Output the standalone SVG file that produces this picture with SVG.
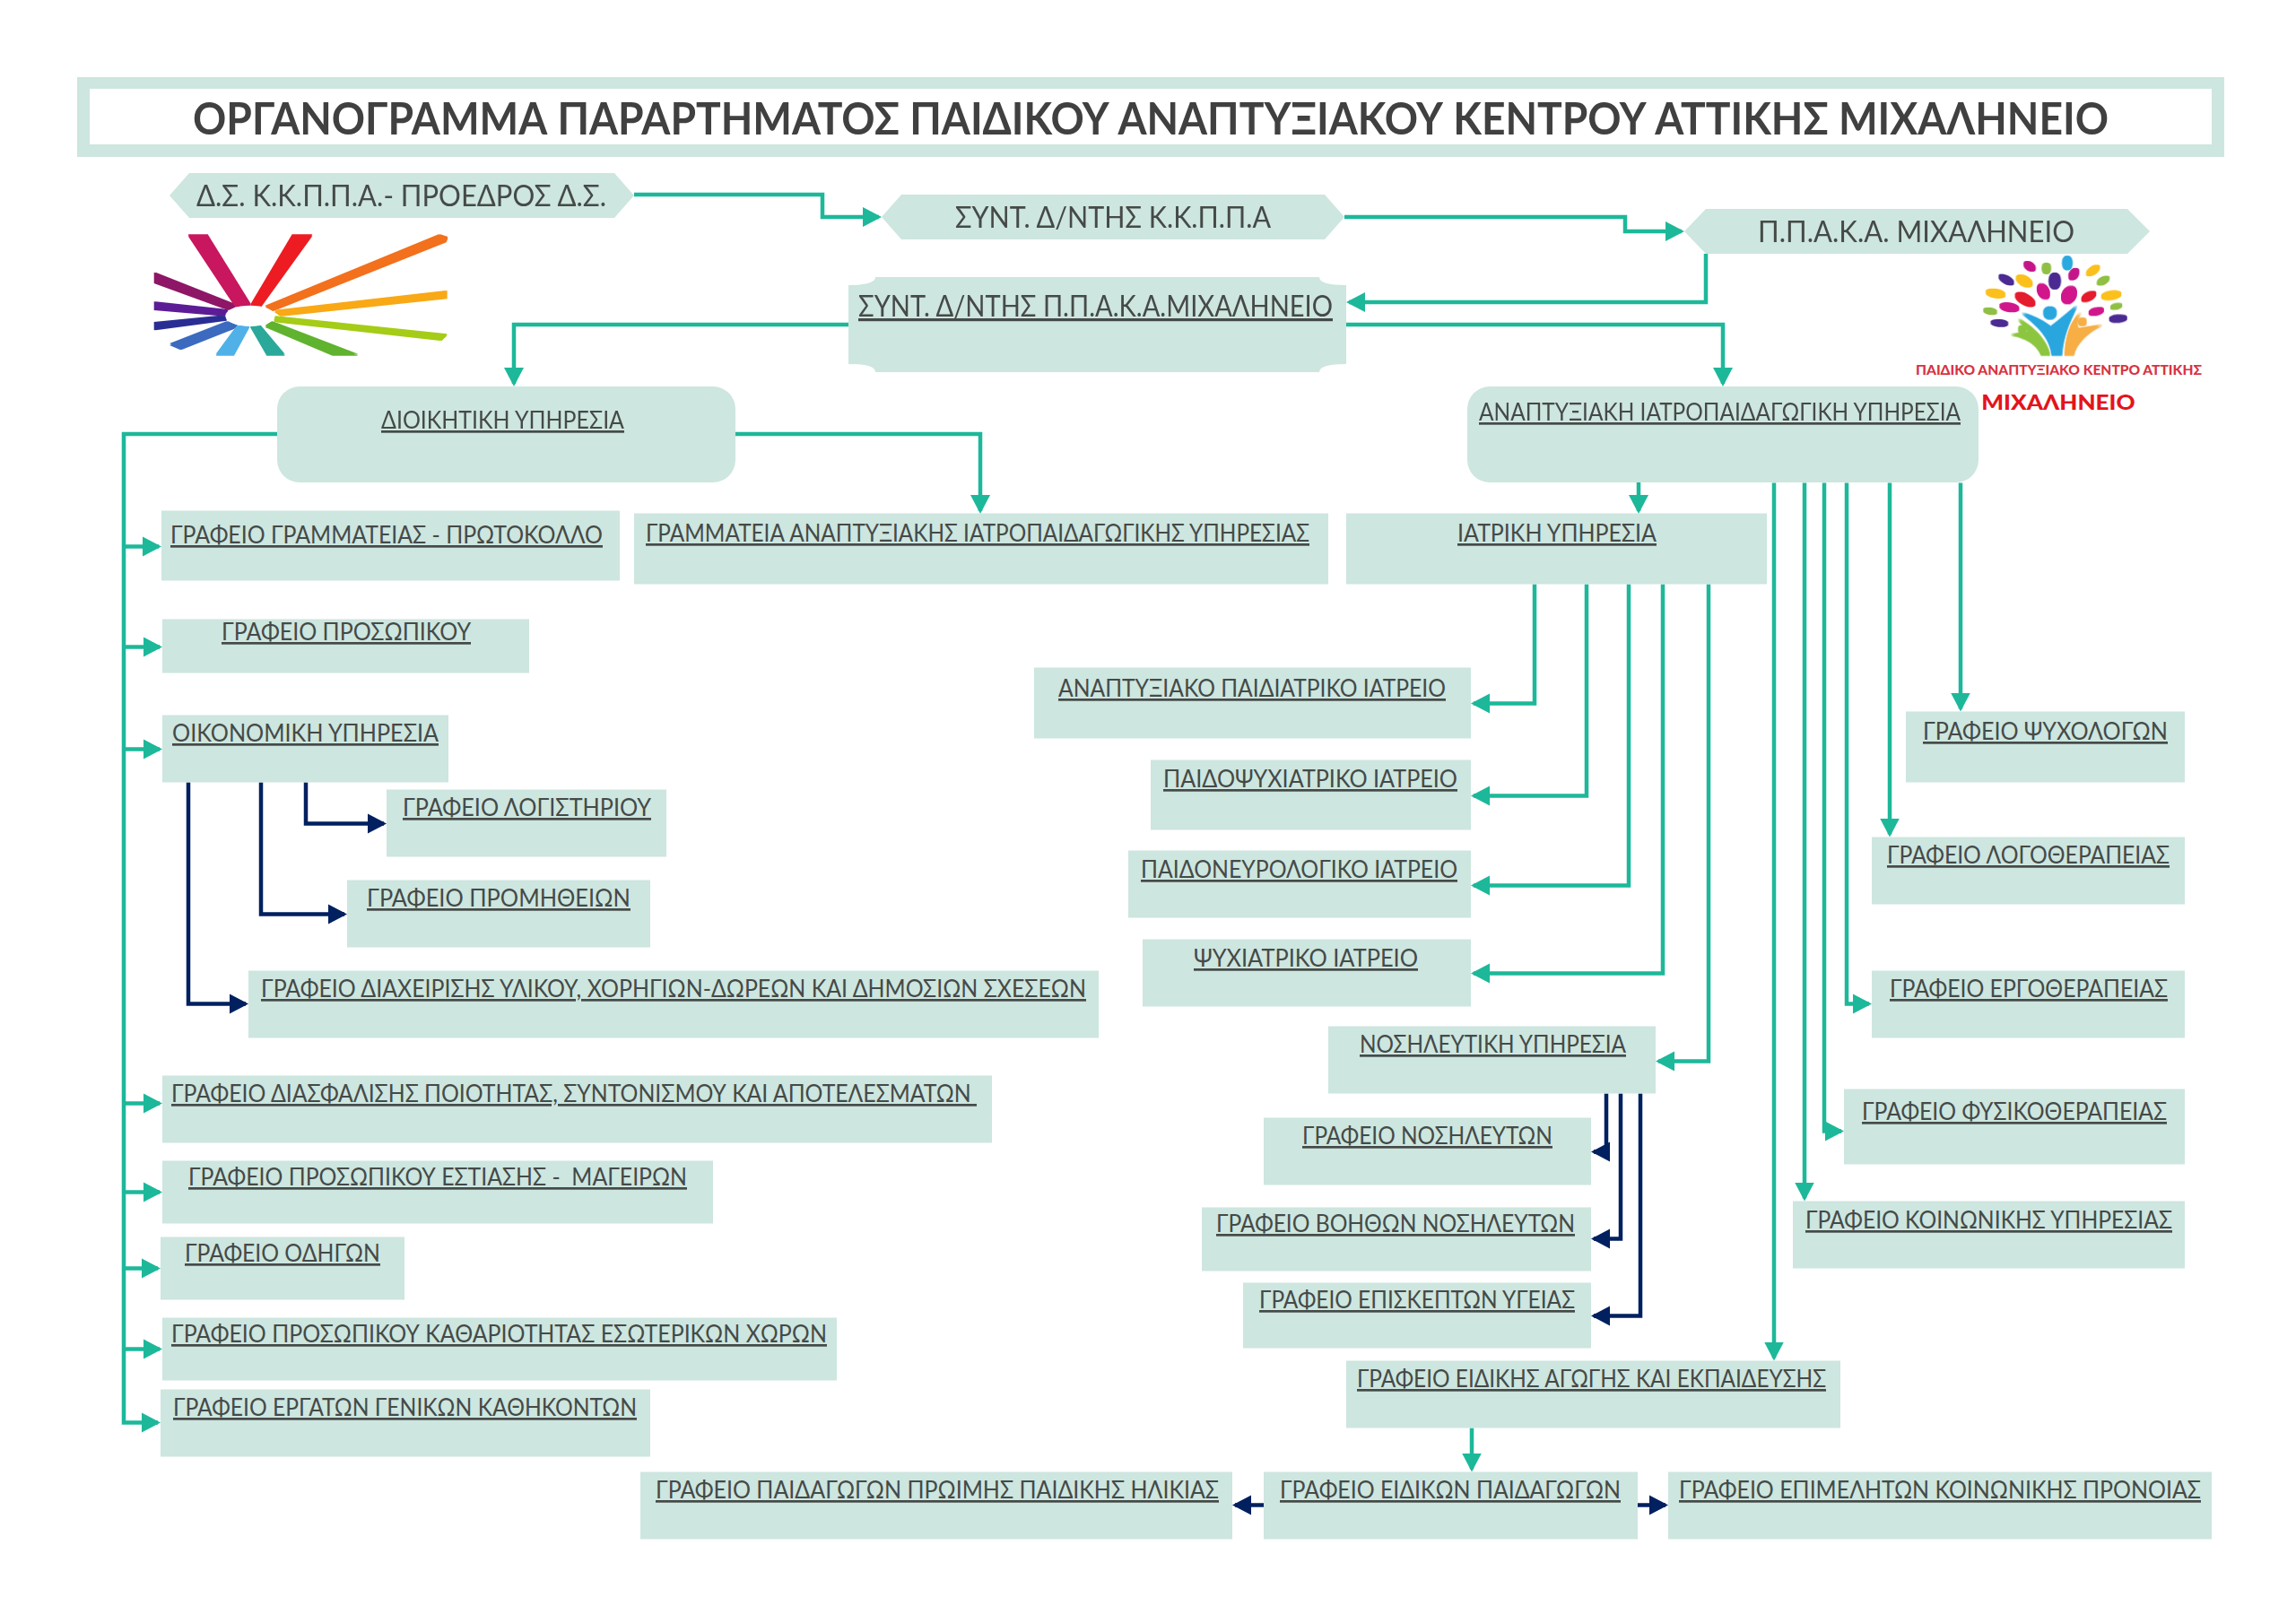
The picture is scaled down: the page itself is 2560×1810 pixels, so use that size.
<svg xmlns="http://www.w3.org/2000/svg" width="2560" height="1810" viewBox="0 0 2560 1810">
<style>
.b{fill:#cde6df}
text{font-family:Lato,"Open Sans","Noto Sans",sans-serif;fill:#454a48}
.t{font-size:27px;text-decoration:underline;white-space:pre}
g g .t{transform:translateY(-1.5px)}
.h{font-size:33px}
.c{fill:none;stroke-width:4.5;stroke-linejoin:miter}
.g{stroke:#1db89a}
.n{stroke:#002060}
</style>
<defs>
<marker id="ag" markerUnits="userSpaceOnUse" markerWidth="21" markerHeight="24" viewBox="0 0 21 24" refX="18" refY="12" orient="auto"><path d="M0 1L21 12L0 23Z" fill="#1db89a"/></marker>
<marker id="an" markerUnits="userSpaceOnUse" markerWidth="21" markerHeight="24" viewBox="0 0 21 24" refX="18" refY="12" orient="auto"><path d="M0 1L21 12L0 23Z" fill="#002060"/></marker>
<filter id="soft" x="-5%" y="-5%" width="110%" height="110%"><feMorphology operator="dilate" radius="3"/><feGaussianBlur stdDeviation="2"/></filter>
</defs>
<rect width="2560" height="1810" fill="#fff"/>

<g id="title"><path class="b" fill-rule="evenodd" d="M86 86H2480V175H86ZM100 99V161H2466V99Z"/>
<text x="215" y="150" font-size="50" font-weight="700" style="fill:#404040" textLength="2136" lengthAdjust="spacingAndGlyphs">ΟΡΓΑΝΟΓΡΑΜΜΑ ΠΑΡΑΡΤΗΜΑΤΟΣ ΠΑΙΔΙΚΟΥ ΑΝΑΠΤΥΞΙΑΚΟΥ ΚΕΝΤΡΟΥ ΑΤΤΙΚΗΣ ΜΙΧΑΛΗΝΕΙΟ</text></g>

<g id="logo-kkppa" transform="translate(150 230) scale(.3333)">
<g filter="url(#soft)">
<polygon fill="#c8175f" points="182,97 242,97 388,332 340,335"/>
<polygon fill="#ed1c24" points="530,97 592,97 420,335 390,332"/>
<polygon fill="#f36f1a" points="1020,97 1045,105 1040,118 462,348 440,335"/>
<polygon fill="#f9a813" points="1043,285 1043,307 490,365 470,350"/>
<polygon fill="#a5cc17" points="470,370 1043,430 1025,447 470,385"/>
<polygon fill="#5fb32f" points="460,388 745,497 665,497 440,402"/>
<polygon fill="#2ca89a" points="418,400 500,497 445,497 390,402"/>
<polygon fill="#4fb1e8" points="345,402 382,402 330,497 275,497"/>
<polygon fill="#3a6bbf" points="310,388 345,402 155,477 120,462"/>
<polygon fill="#2b2e94" points="305,367 305,380 68,412 68,390"/>
<polygon fill="#5b1f96" points="68,322 310,348 305,365 68,345"/>
<polygon fill="#8e1766" points="68,224 340,332 315,345 68,255"/>
</g>
<ellipse cx="387" cy="367" rx="83" ry="35" fill="#fff"/>
</g>

<g id="logo-pakA" transform="translate(2130 270) scale(.3333)">
<g filter="url(#soft)">
<ellipse cx="399" cy="81" rx="20" ry="12" transform="rotate(35 399 81)" fill="#c4168a"/>
<ellipse cx="455" cy="88" rx="17" ry="13" transform="rotate(90 455 88)" fill="#8fc045"/>
<ellipse cx="525" cy="70" rx="22" ry="15" transform="rotate(90 525 70)" fill="#29a9e0"/>
<ellipse cx="611" cy="95" rx="24" ry="11" transform="rotate(-35 611 95)" fill="#fbc01a"/>
<ellipse cx="547" cy="107" rx="20" ry="13" transform="rotate(-55 547 107)" fill="#c4168a"/>
<ellipse cx="483" cy="130" rx="26" ry="18" transform="rotate(90 483 130)" fill="#4b2a92"/>
<ellipse cx="645" cy="129" rx="21" ry="10" transform="rotate(-30 645 129)" fill="#8fc045"/>
<ellipse cx="321" cy="126" rx="26" ry="11" transform="rotate(30 321 126)" fill="#4b2a92"/>
<ellipse cx="381" cy="130" rx="28" ry="15" transform="rotate(30 381 130)" fill="#fbc01a"/>
<ellipse cx="445" cy="165" rx="26" ry="17" transform="rotate(60 445 165)" fill="#d1178c"/>
<ellipse cx="531" cy="177" rx="30" ry="22" transform="rotate(-60 531 177)" fill="#d1178c"/>
<ellipse cx="597" cy="182" rx="25" ry="12" transform="rotate(-30 597 182)" fill="#e41f2d"/>
<ellipse cx="672" cy="178" rx="32" ry="13" transform="rotate(-10 672 178)" fill="#fbc01a"/>
<ellipse cx="285" cy="172" rx="31" ry="13" transform="rotate(10 285 172)" fill="#fbc01a"/>
<ellipse cx="384" cy="192" rx="35" ry="16" transform="rotate(30 384 192)" fill="#e41f2d"/>
<ellipse cx="331" cy="218" rx="31" ry="13" transform="rotate(10 331 218)" fill="#d1178c"/>
<ellipse cx="622" cy="232" rx="24" ry="11" transform="rotate(-15 622 232)" fill="#d1178c"/>
<ellipse cx="689" cy="215" rx="18" ry="8" transform="rotate(-15 689 215)" fill="#8fc045"/>
<ellipse cx="267" cy="231" rx="21" ry="9" transform="rotate(10 267 231)" fill="#8fc045"/>
<ellipse cx="298" cy="271" rx="27" ry="10" transform="rotate(5 298 271)" fill="#4b2a92"/>
<ellipse cx="695" cy="256" rx="28" ry="11" transform="rotate(-5 695 256)" fill="#4b2a92"/>
<circle cx="467" cy="237" r="20" fill="#29a6de"/>
<path fill="#29a6de" d="M375 238C420 250 450 270 470 285C490 270 520 245 555 215C530 270 510 310 505 378L475 378C470 320 430 280 375 238Z"/>
<circle cx="375" cy="292" r="12" fill="#8cc63f"/>
<path fill="#8cc63f" d="M338 310L395 300L362 258C410 285 455 330 465 378L440 378C430 350 400 320 338 310Z"/>
<circle cx="575" cy="267" r="12" fill="#f6ae45"/>
<path fill="#f6ae45" d="M570 235C535 270 520 320 518 378L545 378C552 340 590 300 640 278L560 290C555 270 560 250 570 235Z"/>
</g>
<text x="18" y="445" font-size="46" font-weight="900" style="fill:#d9333f" textLength="957" lengthAdjust="spacingAndGlyphs">ΠΑΙΔΙΚΟ ΑΝΑΠΤΥΞΙΑΚΟ ΚΕΝΤΡΟ ΑΤΤΙΚΗΣ</text>
<text x="238" y="562" font-size="68" font-weight="900" style="fill:#e3141b" textLength="514" lengthAdjust="spacingAndGlyphs">ΜΙΧΑΛΗΝΕΙΟ</text>
</g>

<g id="connectors">
<g class="c g">
<path marker-end="url(#ag)" d="M707 217H917V242H980"/>
<path marker-end="url(#ag)" d="M1499 242H1812V258H1875"/>
<path marker-end="url(#ag)" d="M1902 283V337H1504"/>
<path marker-end="url(#ag)" d="M946 362H573V428"/>
<path marker-end="url(#ag)" d="M1501 362H1921V428"/>
<path marker-end="url(#ag)" d="M820 484H1093V570"/>
<path marker-end="url(#ag)" d="M309 484H138V1586.5H176"/>
<path marker-end="url(#ag)" d="M1827 537V570"/>
</g>
<g transform="translate(0 1.5)">
<g class="c g">
<path marker-end="url(#ag)" d="M138 608H177"/>
<path marker-end="url(#ag)" d="M138 720H178"/>
<path marker-end="url(#ag)" d="M138 834H178"/>
<path marker-end="url(#ag)" d="M138 1229H178"/>
<path marker-end="url(#ag)" d="M138 1328H178"/>
<path marker-end="url(#ag)" d="M138 1413H176"/>
<path marker-end="url(#ag)" d="M138 1503H178"/>
<path marker-end="url(#ag)" d="M1711 650V783H1643"/>
<path marker-end="url(#ag)" d="M1769 650V886H1643"/>
<path marker-end="url(#ag)" d="M1816 650V986H1643"/>
<path marker-end="url(#ag)" d="M1854 650V1084H1643"/>
<path marker-end="url(#ag)" d="M1905 650V1182H1849"/>
<path marker-end="url(#ag)" d="M2186 537V789"/>
<path marker-end="url(#ag)" d="M2107 537V929"/>
<path marker-end="url(#ag)" d="M2059 537V1118H2084"/>
<path marker-end="url(#ag)" d="M2034 537V1260H2053"/>
<path marker-end="url(#ag)" d="M2012 537V1335"/>
<path marker-end="url(#ag)" d="M1978 537V1513"/>
<path marker-end="url(#ag)" d="M1641 1591V1637"/>
</g>
<g class="c n">
<path marker-end="url(#an)" d="M341 871V917H428"/>
<path marker-end="url(#an)" d="M291 871V1018H384"/>
<path marker-end="url(#an)" d="M210 871V1118H274"/>
<path marker-end="url(#an)" d="M1791 1218V1283H1777"/>
<path marker-end="url(#an)" d="M1807 1218V1380H1777"/>
<path marker-end="url(#an)" d="M1829 1218V1466H1777"/>
<path marker-end="url(#an)" d="M1409 1677H1377"/>
<path marker-end="url(#an)" d="M1826 1677H1857"/>
</g>
</g>
</g>

<g id="n-ds"><polygon class="b" points="189,218 211,193 685,193 707,218 685,243 211,243"/><text class="h" x="219" y="230" textLength="457" lengthAdjust="spacingAndGlyphs">Δ.Σ. Κ.Κ.Π.Π.Α.- ΠΡΟΕΔΡΟΣ Δ.Σ.</text></g>
<g id="n-synt"><polygon class="b" points="983,242 1005,217 1477,217 1499,242 1477,267 1005,267"/><text class="h" x="1065" y="254" textLength="352" lengthAdjust="spacingAndGlyphs">ΣΥΝΤ. Δ/ΝΤΗΣ Κ.Κ.Π.Π.Α</text></g>
<g id="n-ppaka"><polygon class="b" points="1878,258 1902,233 2372,233 2397,258 2372,283 1902,283"/><text class="h" x="1960" y="270" textLength="353" lengthAdjust="spacingAndGlyphs">Π.Π.Α.Κ.Α. ΜΙΧΑΛΗΝΕΙΟ</text></g>
<g id="n-syntp"><path class="b" d="M976 309H1471Q1471 318 1501 318V406Q1471 406 1471 415H976Q976 406 946 406V318Q976 318 976 309Z"/><text class="t" style="font-size:32px" x="957" y="353" textLength="529" lengthAdjust="spacingAndGlyphs">ΣΥΝΤ. Δ/ΝΤΗΣ Π.Π.Α.Κ.Α.ΜΙΧΑΛΗΝΕΙΟ</text></g>
<g id="n-dioik"><rect class="b" x="309" y="431" width="511" height="107" rx="25"/><text class="t" x="425" y="478" textLength="271" lengthAdjust="spacingAndGlyphs">ΔΙΟΙΚΗΤΙΚΗ ΥΠΗΡΕΣΙΑ</text></g>
<g id="n-anapt"><rect class="b" x="1636" y="431" width="570" height="107" rx="25"/><text class="t" x="1649" y="469" textLength="537" lengthAdjust="spacingAndGlyphs">ΑΝΑΠΤΥΞΙΑΚΗ ΙΑΤΡΟΠΑΙΔΑΓΩΓΙΚΗ ΥΠΗΡΕΣΙΑ</text></g>
<g transform="translate(0 1.5)">
<g id="n-gram"><rect class="b" x="180" y="568" width="511" height="78"/><text class="t" x="190" y="606" textLength="482" lengthAdjust="spacingAndGlyphs">ΓΡΑΦΕΙΟ ΓΡΑΜΜΑΤΕΙΑΣ - ΠΡΩΤΟΚΟΛΛΟ</text></g>
<g id="n-grama"><rect class="b" x="707" y="571" width="774" height="79"/><text class="t" x="720" y="604" textLength="740" lengthAdjust="spacingAndGlyphs">ΓΡΑΜΜΑΤΕΙΑ ΑΝΑΠΤΥΞΙΑΚΗΣ ΙΑΤΡΟΠΑΙΔΑΓΩΓΙΚΗΣ ΥΠΗΡΕΣΙΑΣ</text></g>
<g id="n-pros"><rect class="b" x="181" y="689" width="409" height="60"/><text class="t" x="247" y="714" textLength="278" lengthAdjust="spacingAndGlyphs">ΓΡΑΦΕΙΟ ΠΡΟΣΩΠΙΚΟΥ</text></g>
<g id="n-oik"><rect class="b" x="181" y="796" width="319" height="75"/><text class="t" x="192" y="827" textLength="297" lengthAdjust="spacingAndGlyphs">ΟΙΚΟΝΟΜΙΚΗ ΥΠΗΡΕΣΙΑ</text></g>
<g id="n-log"><rect class="b" x="431" y="879" width="312" height="75"/><text class="t" x="449" y="910" textLength="277" lengthAdjust="spacingAndGlyphs">ΓΡΑΦΕΙΟ ΛΟΓΙΣΤΗΡΙΟΥ</text></g>
<g id="n-prom"><rect class="b" x="387" y="980" width="338" height="75"/><text class="t" x="409" y="1011" textLength="294" lengthAdjust="spacingAndGlyphs">ΓΡΑΦΕΙΟ ΠΡΟΜΗΘΕΙΩΝ</text></g>
<g id="n-diax"><rect class="b" x="277" y="1081" width="948" height="75"/><text class="t" x="291" y="1112" textLength="920" lengthAdjust="spacingAndGlyphs">ΓΡΑΦΕΙΟ ΔΙΑΧΕΙΡΙΣΗΣ ΥΛΙΚΟΥ, ΧΟΡΗΓΙΩΝ-ΔΩΡΕΩΝ ΚΑΙ ΔΗΜΟΣΙΩΝ ΣΧΕΣΕΩΝ</text></g>
<g id="n-dias"><rect class="b" x="181" y="1198" width="925" height="75"/><text class="t" x="191" y="1229" textLength="898" lengthAdjust="spacingAndGlyphs">ΓΡΑΦΕΙΟ ΔΙΑΣΦΑΛΙΣΗΣ ΠΟΙΟΤΗΤΑΣ, ΣΥΝΤΟΝΙΣΜΟΥ ΚΑΙ ΑΠΟΤΕΛΕΣΜΑΤΩΝ </text></g>
<g id="n-est"><rect class="b" x="181" y="1293" width="614" height="70"/><text class="t" x="210" y="1322" textLength="556" lengthAdjust="spacingAndGlyphs">ΓΡΑΦΕΙΟ ΠΡΟΣΩΠΙΚΟΥ ΕΣΤΙΑΣΗΣ -  ΜΑΓΕΙΡΩΝ</text></g>
<g id="n-odig"><rect class="b" x="179" y="1378" width="272" height="70"/><text class="t" x="206" y="1407" textLength="218" lengthAdjust="spacingAndGlyphs">ΓΡΑΦΕΙΟ ΟΔΗΓΩΝ</text></g>
<g id="n-kath"><rect class="b" x="181" y="1468" width="752" height="70"/><text class="t" x="191" y="1497" textLength="731" lengthAdjust="spacingAndGlyphs">ΓΡΑΦΕΙΟ ΠΡΟΣΩΠΙΚΟΥ ΚΑΘΑΡΙΟΤΗΤΑΣ ΕΣΩΤΕΡΙΚΩΝ ΧΩΡΩΝ</text></g>
<g id="n-erg"><rect class="b" x="179" y="1548" width="546" height="75"/><text class="t" x="193" y="1579" textLength="517" lengthAdjust="spacingAndGlyphs">ΓΡΑΦΕΙΟ ΕΡΓΑΤΩΝ ΓΕΝΙΚΩΝ ΚΑΘΗΚΟΝΤΩΝ</text></g>
<g id="n-paid"><rect class="b" x="714" y="1640" width="660" height="75"/><text class="t" x="731" y="1671" textLength="628" lengthAdjust="spacingAndGlyphs">ΓΡΑΦΕΙΟ ΠΑΙΔΑΓΩΓΩΝ ΠΡΩΙΜΗΣ ΠΑΙΔΙΚΗΣ ΗΛΙΚΙΑΣ</text></g>
<g id="n-iatr"><rect class="b" x="1501" y="571" width="469" height="79"/><text class="t" x="1625" y="604" textLength="222" lengthAdjust="spacingAndGlyphs">ΙΑΤΡΙΚΗ ΥΠΗΡΕΣΙΑ</text></g>
<g id="n-api"><rect class="b" x="1153" y="743" width="487" height="79"/><text class="t" x="1180" y="777" textLength="432" lengthAdjust="spacingAndGlyphs">ΑΝΑΠΤΥΞΙΑΚΟ ΠΑΙΔΙΑΤΡΙΚΟ ΙΑΤΡΕΙΟ</text></g>
<g id="n-pps"><rect class="b" x="1283" y="846" width="357" height="78"/><text class="t" x="1297" y="878" textLength="328" lengthAdjust="spacingAndGlyphs">ΠΑΙΔΟΨΥΧΙΑΤΡΙΚΟ ΙΑΤΡΕΙΟ</text></g>
<g id="n-pne"><rect class="b" x="1258" y="947" width="382" height="75"/><text class="t" x="1272" y="979" textLength="353" lengthAdjust="spacingAndGlyphs">ΠΑΙΔΟΝΕΥΡΟΛΟΓΙΚΟ ΙΑΤΡΕΙΟ</text></g>
<g id="n-psy"><rect class="b" x="1274" y="1046" width="366" height="75"/><text class="t" x="1331" y="1078" textLength="250" lengthAdjust="spacingAndGlyphs">ΨΥΧΙΑΤΡΙΚΟ ΙΑΤΡΕΙΟ</text></g>
<g id="n-nos"><rect class="b" x="1481" y="1143" width="365" height="75"/><text class="t" x="1516" y="1174" textLength="297" lengthAdjust="spacingAndGlyphs">ΝΟΣΗΛΕΥΤΙΚΗ ΥΠΗΡΕΣΙΑ</text></g>
<g id="n-gnos"><rect class="b" x="1409" y="1245" width="365" height="75"/><text class="t" x="1452" y="1276" textLength="279" lengthAdjust="spacingAndGlyphs">ΓΡΑΦΕΙΟ ΝΟΣΗΛΕΥΤΩΝ</text></g>
<g id="n-gboh"><rect class="b" x="1340" y="1345" width="434" height="71"/><text class="t" x="1356" y="1374" textLength="400" lengthAdjust="spacingAndGlyphs">ΓΡΑΦΕΙΟ ΒΟΗΘΩΝ ΝΟΣΗΛΕΥΤΩΝ</text></g>
<g id="n-gepi"><rect class="b" x="1386" y="1429" width="388" height="73"/><text class="t" x="1404" y="1459" textLength="352" lengthAdjust="spacingAndGlyphs">ΓΡΑΦΕΙΟ ΕΠΙΣΚΕΠΤΩΝ ΥΓΕΙΑΣ</text></g>
<g id="n-eid"><rect class="b" x="1501" y="1516" width="551" height="75"/><text class="t" x="1513" y="1547" textLength="523" lengthAdjust="spacingAndGlyphs">ΓΡΑΦΕΙΟ ΕΙΔΙΚΗΣ ΑΓΩΓΗΣ ΚΑΙ ΕΚΠΑΙΔΕΥΣΗΣ</text></g>
<g id="n-eidp"><rect class="b" x="1409" y="1640" width="417" height="75"/><text class="t" x="1427" y="1671" textLength="380" lengthAdjust="spacingAndGlyphs">ΓΡΑΦΕΙΟ ΕΙΔΙΚΩΝ ΠΑΙΔΑΓΩΓΩΝ</text></g>
<g id="n-epim"><rect class="b" x="1860" y="1640" width="606" height="75"/><text class="t" x="1872" y="1671" textLength="582" lengthAdjust="spacingAndGlyphs">ΓΡΑΦΕΙΟ ΕΠΙΜΕΛΗΤΩΝ ΚΟΙΝΩΝΙΚΗΣ ΠΡΟΝΟΙΑΣ</text></g>
<g id="n-psx"><rect class="b" x="2125" y="792" width="311" height="79"/><text class="t" x="2144" y="825" textLength="273" lengthAdjust="spacingAndGlyphs">ΓΡΑΦΕΙΟ ΨΥΧΟΛΟΓΩΝ</text></g>
<g id="n-logo"><rect class="b" x="2087" y="932" width="349" height="75"/><text class="t" x="2104" y="963" textLength="315" lengthAdjust="spacingAndGlyphs">ΓΡΑΦΕΙΟ ΛΟΓΟΘΕΡΑΠΕΙΑΣ</text></g>
<g id="n-ergo"><rect class="b" x="2087" y="1081" width="349" height="75"/><text class="t" x="2107" y="1112" textLength="310" lengthAdjust="spacingAndGlyphs">ΓΡΑΦΕΙΟ ΕΡΓΟΘΕΡΑΠΕΙΑΣ</text></g>
<g id="n-fys"><rect class="b" x="2056" y="1213" width="380" height="84"/><text class="t" x="2076" y="1249" textLength="340" lengthAdjust="spacingAndGlyphs">ΓΡΑΦΕΙΟ ΦΥΣΙΚΟΘΕΡΑΠΕΙΑΣ</text></g>
<g id="n-koin"><rect class="b" x="1999" y="1338" width="437" height="75"/><text class="t" x="2013" y="1370" textLength="409" lengthAdjust="spacingAndGlyphs">ΓΡΑΦΕΙΟ ΚΟΙΝΩΝΙΚΗΣ ΥΠΗΡΕΣΙΑΣ</text></g>
</g>
</svg>
